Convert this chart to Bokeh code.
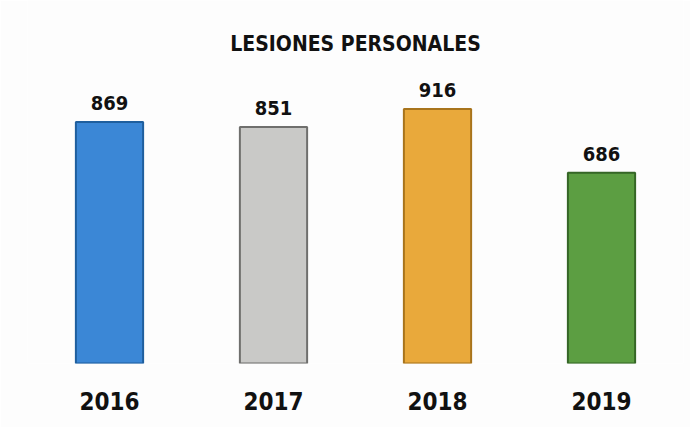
from bokeh.plotting import figure
from bokeh.models import ColumnDataSource, Label, Range1d
from bokeh.core.properties import value
from bokeh.embed import file_html
from bokeh.resources import INLINE

years = ["2016", "2017", "2018", "2019"]
counts = [869, 851, 916, 686]
fills = ["#3b87d6", "#c9c9c7", "#e9a93b", "#5c9e42"]
edges = ["#1f5f9e", "#6f6f6d", "#a8741c", "#356626"]
title_text = "LESIONES PERSONALES"

FONT = "DejaVu Sans Condensed"

src = ColumnDataSource(dict(year=years, count=counts, fill=fills, edge=edges,
                            label=[str(c) for c in counts]))

p = figure(width=690, height=427, x_range=years, y_range=Range1d(0, 1306),
           output_backend="svg", toolbar_location=None,
           min_border_left=27, min_border_right=7, min_border_top=0,
           min_border_bottom=64, background_fill_color="#fdfdfd",
           border_fill_color="#fdfdfd")
p.outline_line_color = None
p.xgrid.grid_line_color = None
p.ygrid.grid_line_color = None
p.yaxis.visible = False
p.xaxis.axis_line_color = None
p.xaxis.major_tick_line_color = None
p.xaxis.minor_tick_line_color = None
p.xaxis.major_label_standoff = 22
p.xaxis.major_label_text_font = FONT
p.xaxis.major_label_text_font_style = "bold"
p.xaxis.major_label_text_font_size = "24px"
p.xaxis.major_label_text_color = "#111111"

p.vbar(x="year", top="count", width=0.41, source=src, fill_color="fill",
       line_color="edge", line_width=2)

p.text(x="year", y="count", text="label", source=src, y_offset=-12,
       text_align="center", text_baseline="bottom", text_font=value(FONT),
       text_font_style="bold", text_font_size="20px", text_color="#111111")

p.add_layout(Label(x=2.0, y=1151, text=title_text, text_align="center",
                   text_baseline="middle", text_font=FONT, text_font_style="bold",
                   text_font_size="21px", text_color="#111111"))

open("out.html", "w").write(file_html(p, INLINE))
